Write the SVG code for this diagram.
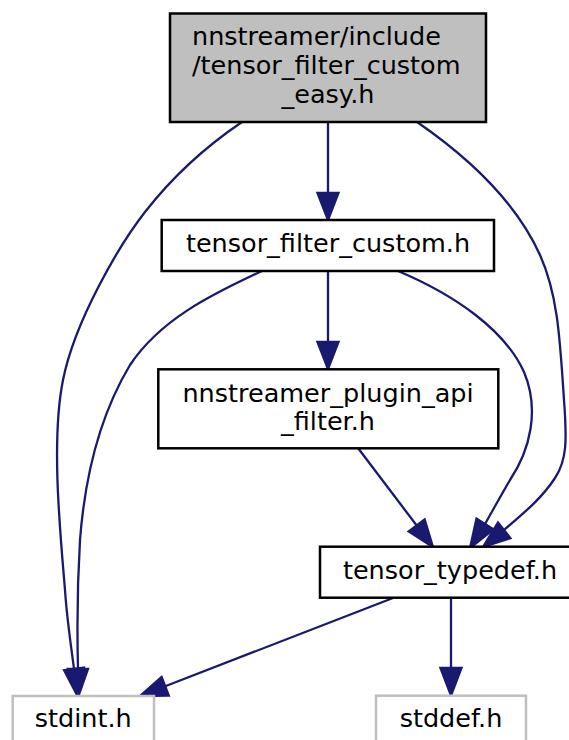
<svg xmlns="http://www.w3.org/2000/svg" width="569" height="740" viewBox="0 0 569 740">
<style>
.node rect{stroke:#000;stroke-width:2.5}
.node text{font-family:"DejaVu Sans",sans-serif;font-size:25.5px;fill:#000}
.ext rect{fill:#fff;stroke:#bfbfbf}
.edge path{fill:none;stroke:#191970;stroke-width:2.3}
.edge polygon{fill:#191970;stroke:#191970;stroke-width:2.3}
</style>
<rect width="569" height="740" fill="#fff"/>
<g id="edges" class="edge">
<path d="M242,122 C205,147 170,180 145,212 C120,244 75,320 63,380 C51,440 60,530 65,590 C67,620 71,645 74,669"/>
<polygon points="64.1,670.3 77.5,696 83.9,667.7"/>
<path d="M328,122 L328,193"/>
<polygon points="317.5,193 328,220 338.5,193"/>
<path d="M417,122 C465,155 515,200 540,255 C558,295 560,340 564,400 C567,440 567,460 555,478 C542,498 525,512 504,530"/>
<polygon points="510.4,538.2 483,547 498,522.4"/>
<path d="M262,271 C210,295 160,320 130,365 C100,415 85,475 80,540 C77,590 77,630 78,669"/>
<polygon points="68,669 78.5,696 88,669"/>
<path d="M328,271 L328,342"/>
<polygon points="317.5,342 328,369 338.5,342"/>
<path d="M398,271 C455,295 505,330 524,372 C540,410 530,450 510,480 C500,497 493,510 485,524"/>
<polygon points="493.5,529.3 470,548 476.5,518.7"/>
<path d="M358,448 L416.7,525.5"/>
<polygon points="424.7,519.5 433,547 408.7,531.5"/>
<path d="M393,598 L165.2,686.3"/>
<polygon points="168.8,695.6 140,696 161.6,676.9"/>
<path d="M451,598 L451,668"/>
<polygon points="440.5,668 451,695.5 461.5,668"/>
</g>
<g id="node1" class="node">
<rect x="170" y="13.5" width="316" height="108.5" fill="#bfbfbf"/>
<text x="192" y="44.5">nnstreamer/include</text>
<text x="192" y="73.5">/tensor_filter_custom</text>
<text x="328" y="102.5" text-anchor="middle">_easy.h</text>
</g>
<g id="node2" class="node">
<rect x="161.7" y="220" width="332.3" height="51" fill="#fff"/>
<text x="328" y="252" text-anchor="middle">tensor_filter_custom.h</text>
</g>
<g id="node3" class="node">
<rect x="158.3" y="369.3" width="340" height="79" fill="#fff"/>
<text x="328" y="401.5" text-anchor="middle">nnstreamer_plugin_api</text>
<text x="328" y="430" text-anchor="middle">_filter.h</text>
</g>
<g id="node4" class="node">
<rect x="320" y="546.7" width="260" height="51" fill="#fff"/>
<text x="450" y="578.5" text-anchor="middle">tensor_typedef.h</text>
</g>
<g id="node5" class="node ext">
<rect x="12.7" y="696" width="141.3" height="51"/>
<text x="83.3" y="727" text-anchor="middle">stdint.h</text>
</g>
<g id="node6" class="node ext">
<rect x="376" y="695.7" width="150" height="51"/>
<text x="451" y="727" text-anchor="middle">stddef.h</text>
</g>
</svg>
